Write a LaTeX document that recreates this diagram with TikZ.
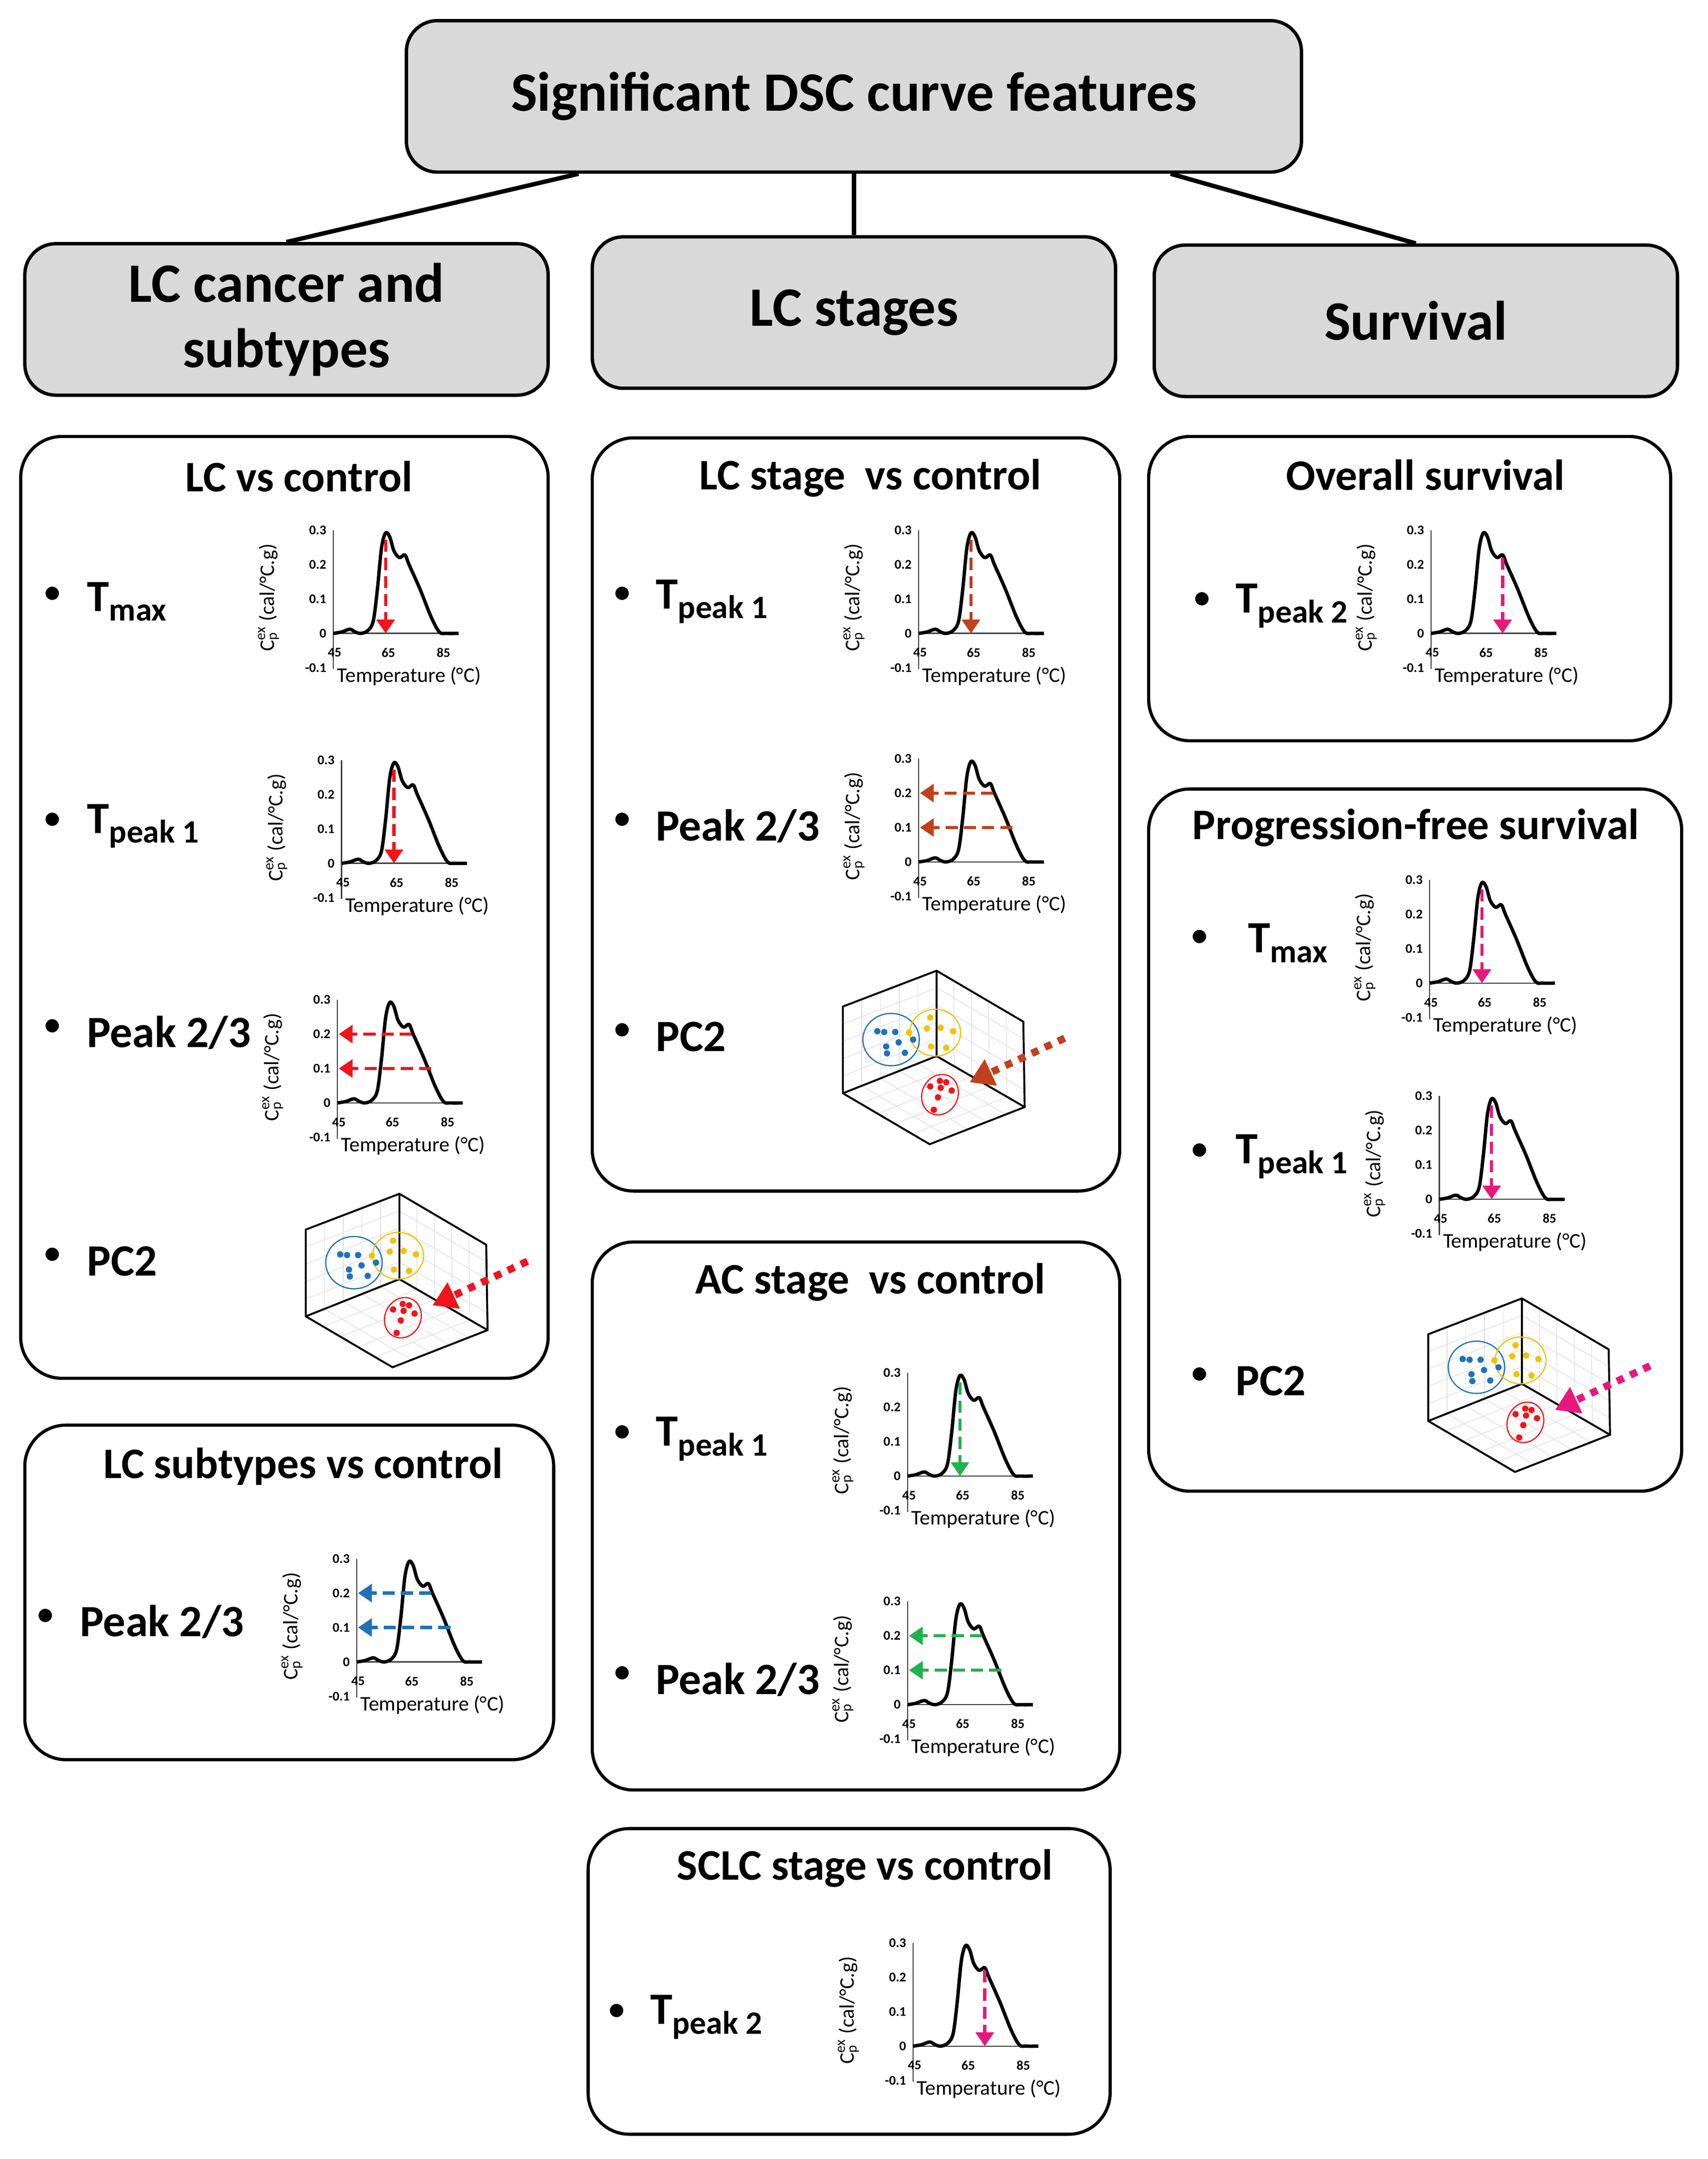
\documentclass[tikz,border=0pt]{standalone}
\usepackage{fontspec}
\setmainfont{Carlito}
\usetikzlibrary{arrows.meta,calc}

\definecolor{boxgray}{HTML}{D9D9D9}
\definecolor{cred}{HTML}{F0141C}
\definecolor{corange}{HTML}{C1401D}
\definecolor{cgreen}{HTML}{22B14C}
\definecolor{cblue}{HTML}{1F72B8}
\definecolor{cpink}{HTML}{E8177C}
\definecolor{cyellow}{HTML}{F2C200}

\newcommand{\Tsub}[1]{T\raisebox{-0.45ex}{\fontsize{13.5}{14}\selectfont #1}}

\tikzset{
  head/.style={draw, line width=1.4pt, fill=boxgray, rounded corners=0.45cm,
    font=\bfseries\fontsize{23}{27}\selectfont, align=center,
    minimum width=7.6cm, minimum height=2.2cm},
  panel/.style={draw, line width=1.3pt, rounded corners=0.6cm},
  ptitle/.style={font=\bfseries\fontsize{18}{21}\selectfont},
  item/.style={anchor=west, font=\bfseries\fontsize{18.5}{21}\selectfont},
  dot/.style={anchor=center, font=\bfseries\fontsize{13}{15}\selectfont},
  arr/.style={line width=1.3pt, dash pattern=on 5pt off 2.5pt,
    -{Triangle[width=0.26cm,length=0.2cm]}},
  % DSC mini chart: #1 = kind (1 peak, 2 second peak, 3 peak 2/3), #2 = colour
  pics/dsc/.style 2 args={code={
    \draw[black!75, line width=0.5pt] (0,-75) -- (0,26) (0,0) -- (91,0);
    \foreach \v/\h in {0.3/-75,0.2/-50,0.1/-25,0/0,-0.1/25}
      \node[anchor=east, inner sep=1pt, font=\bfseries\fontsize{5.5}{6}\selectfont] at (-3,\h) {\v};
    \foreach \t/\p in {45/1,65/40,85/80}
      \node[inner sep=0pt, font=\bfseries\fontsize{5.5}{6}\selectfont] at (\p,14) {\t};
    \node[font=\fontsize{8.6}{9}\selectfont] at (55,31) {Temperature (°C)};
    \node[rotate=90, font=\fontsize{8.6}{9}\selectfont] at (-47,-26)
      {C\rlap{\textsubscript{p}}\textsuperscript{ex} (cal/°C.g)};
    \draw[line width=1.4pt, line join=round] plot[smooth, tension=0.55] coordinates
      {(0,0) (6,-1) (12,-3) (16,-1) (20,0) (25,-2) (29,-9) (32,-32) (35,-62)
       (38,-73) (41,-70) (44,-60) (48,-55) (52,-57) (55,-50) (63,-32) (71,-12)
       (77,-1) (82,0) (91,0)};
    \ifcase#1\or
      \draw[arr, #2] (38,-68) -- (38,0);
    \or
      \draw[arr, #2] (52,-55) -- (52,0);
    \or
      \draw[arr, #2] (54,-50) -- (1,-50);
      \draw[arr, #2] (68,-25) -- (1,-25);
    \fi
  }},
  % 3D score plot, #1 = arrow colour
  pics/pcbox/.style={code={
    \coordinate (-i) at (0,0);   \coordinate (-t) at (0,-62);
    \coordinate (-ul) at (-68,-36); \coordinate (-ll) at (-68,27);
    \coordinate (-b) at (-5,64);  \coordinate (-lr) at (64,37);
    \coordinate (-ur) at (63,-25);
    \foreach \s in {0.2,0.4,0.6,0.8} {
      \draw[black!12, line width=0.3pt] ($(-i)!\s!(-ll)$) -- ($(-t)!\s!(-ul)$);
      \draw[black!12, line width=0.3pt] ($(-i)!\s!(-t)$) -- ($(-ll)!\s!(-ul)$);
      \draw[black!12, line width=0.3pt] ($(-i)!\s!(-lr)$) -- ($(-t)!\s!(-ur)$);
      \draw[black!12, line width=0.3pt] ($(-i)!\s!(-t)$) -- ($(-lr)!\s!(-ur)$);
      \draw[black!12, line width=0.3pt] ($(-i)!\s!(-ll)$) -- ($(-lr)!\s!(-b)$);
      \draw[black!12, line width=0.3pt] ($(-i)!\s!(-lr)$) -- ($(-ll)!\s!(-b)$);
    }
    \draw[line width=0.8pt] (-ll) -- (-ul) -- (-t) -- (-ur) -- (-lr) -- (-b) -- cycle;
    \draw[line width=0.8pt] (-t) -- (-i) (-ll) -- (-i) -- (-lr);
    \draw[cblue, line width=0.5pt] (-33,-12) ellipse [x radius=20.5, y radius=19];
    \draw[cyellow, line width=0.5pt] (-1,-17) ellipse [x radius=18.5, y radius=17];
    \draw[cred, line width=0.5pt, rotate around={-25:(2.5,28)}] (2.5,28) ellipse [x radius=13, y radius=15];
    \foreach \p in {(-43,-18),(-38,-17.5),(-30,-17.5),(-27.5,-10),(-36.6,-7),(-36,-2),(-23,-2.4),(-17,-12)}
      \fill[cblue] \p circle (2.3);
    \foreach \p in {(-4.6,-28),(-7,-20),(3,-20.5),(12,-18),(-4,-7),(7,-6),(-20,-17)}
      \fill[cyellow] \p circle (2.3);
    \foreach \p in {(2.4,18),(7,19),(-4.6,22),(3,23),(11,25),(1,30),(-2,39)}
      \fill[cred] \p circle (2.3);
    \draw[#1, line width=3pt, dash pattern=on 3pt off 3pt,
      -{Triangle[width=0.4cm,length=0.34cm]}] (93,-13) -- (24,19);
  }}
}

\begin{document}
\begin{tikzpicture}[x=0.02cm, y=-0.02cm]
  \useasboundingbox (0,0) rectangle (1240,1568);

  % top levels
  \node[head, minimum width=13cm] (title) at (620,70) {Significant DSC curve features};
  \node[head] (cancer) at (208,232) {LC cancer and\\subtypes};
  \node[head] (stages) at (620,227) {LC stages};
  \node[head] (surv) at (1028,233) {Survival};
  \draw[line width=1.8pt] ([xshift=-4cm]title.south) -- (cancer.north);
  \draw[line width=1.8pt] (title.south) -- (stages.north);
  \draw[line width=1.8pt] ([xshift=4.6cm]title.south) -- (surv.north);

  % LC vs control
  \draw[panel] (15,317) rectangle (398,1001);
  \node[ptitle] at (217,346) {LC vs control};
  \node[dot] at (38,432) {•};  \node[item] at (57,437) {\Tsub{max}};
  \pic at (242,460) {dsc={1}{cred}};
  \node[dot] at (38,596) {•};  \node[item] at (57,600) {\Tsub{peak 1}};
  \pic at (248,627) {dsc={1}{cred}};
  \node[dot] at (38,746) {•};  \node[item] at (57,750) {Peak 2/3};
  \pic at (245,801) {dsc={3}{cred}};
  \node[dot] at (38,912) {•};  \node[item] at (57,916) {PC2};
  \pic at (290,929) {pcbox=cred};

  % LC subtypes vs control
  \draw[panel] (18,1035) rectangle (402,1278);
  \node[ptitle] at (220,1065) {LC subtypes vs control};
  \node[dot] at (33,1174) {•};  \node[item] at (52,1178) {Peak 2/3};
  \pic at (259,1207) {dsc={3}{cblue}};

  % LC stage vs control
  \draw[panel] (430,318) rectangle (813,865);
  \node[ptitle] at (632,347) {LC stage~~vs control};
  \node[dot] at (452,432) {•};  \node[item] at (470,437) {\Tsub{peak 1}};
  \pic at (667,460) {dsc={1}{corange}};
  \node[dot] at (452,596) {•};  \node[item] at (470,600) {Peak 2/3};
  \pic at (667,626) {dsc={3}{corange}};
  \node[dot] at (452,749) {•};  \node[item] at (470,753) {PC2};
  \pic at (680,767) {pcbox=corange};

  % AC stage vs control
  \draw[panel] (430,902) rectangle (813,1300);
  \node[ptitle] at (632,931) {AC stage~~vs control};
  \node[dot] at (452,1041) {•};  \node[item] at (470,1045) {\Tsub{peak 1}};
  \pic at (659,1072) {dsc={1}{cgreen}};
  \node[dot] at (452,1216) {•};  \node[item] at (470,1220) {Peak 2/3};
  \pic at (659,1238) {dsc={3}{cgreen}};

  % SCLC stage vs control
  \draw[panel] (427,1328) rectangle (806,1550);
  \node[ptitle] at (628,1357) {SCLC stage vs control};
  \node[dot] at (448,1461) {•};  \node[item] at (466,1465) {\Tsub{peak 2}};
  \pic at (663,1486) {dsc={2}{cpink}};

  % Overall survival
  \draw[panel] (834,317) rectangle (1213,538);
  \node[ptitle] at (1035,345) {Overall survival};
  \node[dot] at (873,436) {•};  \node[item] at (891,440) {\Tsub{peak 2}};
  \pic at (1039,460) {dsc={2}{cpink}};

  % Progression-free survival
  \draw[panel] (834,573) rectangle (1221,1083);
  \node[ptitle] at (1028,601) {Progression-free survival};
  \node[dot] at (871,681) {•};  \node[item] at (900,685) {\Tsub{max}};
  \pic at (1038,714) {dsc={1}{cpink}};
  \node[dot] at (871,836) {•};  \node[item] at (891,840) {\Tsub{peak 1}};
  \pic at (1045,871) {dsc={1}{cpink}};
  \node[dot] at (871,999) {•};  \node[item] at (891,1003) {PC2};
  \pic at (1105,1005) {pcbox=cpink};
\end{tikzpicture}
\end{document}
